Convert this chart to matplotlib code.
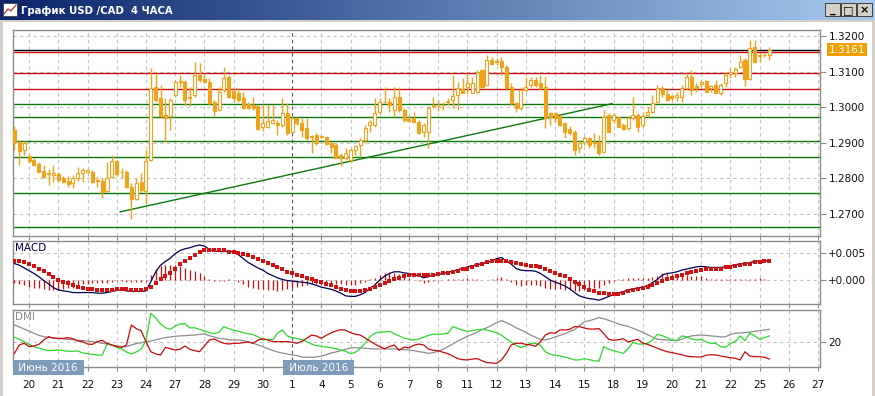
import numpy as np
import matplotlib
matplotlib.use("Agg")
import matplotlib.pyplot as plt
from matplotlib.patches import Rectangle
from matplotlib.colors import LinearSegmentedColormap

# ---- data: 4h bars, index 0 = 20 June 00:00, 6 bars per trading day ----
bars = np.arange(-3, 153)

opens = [1.2936, 1.2902, 1.2880, 1.2862, 1.2852, 1.2841, 1.2821, 1.2815, 1.2810, 1.2812,
         1.2801, 1.2794, 1.2788, 1.2801, 1.2815, 1.2819, 1.2819, 1.2796, 1.2793, 1.2765,
         1.2805, 1.2849, 1.2819, 1.2819, 1.2777, 1.2743, 1.2791, 1.2765, 1.2852, 1.3058,
         1.3025, 1.2979, 1.2974, 1.3035, 1.3070, 1.3072, 1.3030, 1.3035, 1.3091, 1.3080,
         1.3072, 1.3016, 1.2992, 1.3048, 1.3086, 1.3045, 1.3040, 1.3025, 1.3008, 1.3006,
         1.3002, 1.2945, 1.2945, 1.2955, 1.2957, 1.2950, 1.2983, 1.2931, 1.2969, 1.2955,
         1.2941, 1.2919, 1.2922, 1.2918, 1.2915, 1.2899, 1.2894, 1.2866, 1.2856, 1.2852,
         1.2880, 1.2894, 1.2908, 1.2950, 1.2950, 1.2987, 1.3015, 1.3016, 1.2992, 1.3030,
         1.2992, 1.2966, 1.2969, 1.2959, 1.2931, 1.2931, 1.3002, 1.3002, 1.3005, 1.3014,
         1.3020, 1.3034, 1.3050, 1.3058, 1.3041, 1.3044, 1.3105, 1.3062, 1.3134, 1.3129,
         1.3131, 1.3114, 1.3058, 1.3011, 1.2997, 1.3048, 1.3062, 1.3076, 1.3067, 1.3058,
         1.2983, 1.2985, 1.2975, 1.2955, 1.2938, 1.2931, 1.2885, 1.2903, 1.2914, 1.2901,
         1.2903, 1.2875, 1.2978, 1.2964, 1.2972, 1.2950, 1.2941, 1.2969, 1.2978, 1.2950,
         1.2978, 1.2987, 1.3016, 1.3053, 1.3037, 1.3032, 1.3030, 1.3030, 1.3053, 1.3086,
         1.3060, 1.3065, 1.3074, 1.3053, 1.3062, 1.3039, 1.3067, 1.3093, 1.3095, 1.3112,
         1.3133, 1.3078, 1.3170, 1.3147, 1.3147, 1.3147]
highs = [1.2946, 1.2908, 1.2904, 1.2868, 1.2857, 1.2846, 1.2838, 1.2826, 1.2838, 1.2817,
         1.2808, 1.2808, 1.2810, 1.2833, 1.2829, 1.2827, 1.2824, 1.2805, 1.2801, 1.2847,
         1.2866, 1.2852, 1.2829, 1.2824, 1.2787, 1.2801, 1.2815, 1.2880, 1.3109, 1.3096,
         1.3063, 1.3025, 1.3025, 1.3077, 1.3091, 1.3077, 1.3058, 1.3128, 1.3124, 1.3091,
         1.3081, 1.3020, 1.3058, 1.3114, 1.3090, 1.3053, 1.3053, 1.3044, 1.3016, 1.3030,
         1.3003, 1.3008, 1.3006, 1.3006, 1.2964, 1.3025, 1.3011, 1.2975, 1.2973, 1.2969,
         1.2969, 1.2922, 1.2927, 1.2919, 1.2919, 1.2903, 1.2899, 1.2871, 1.2885, 1.2885,
         1.2894, 1.2913, 1.2950, 1.2964, 1.3025, 1.3025, 1.3058, 1.3025, 1.3058, 1.3058,
         1.2997, 1.2978, 1.2987, 1.2964, 1.2955, 1.3002, 1.3028, 1.3020, 1.3016, 1.3025,
         1.3090, 1.3072, 1.3081, 1.3095, 1.3086, 1.3105, 1.3106, 1.3147, 1.3142, 1.3137,
         1.3142, 1.3119, 1.3067, 1.3016, 1.3058, 1.3086, 1.3086, 1.3086, 1.3090, 1.3086,
         1.2987, 1.2987, 1.2978, 1.2959, 1.2947, 1.2936, 1.2908, 1.2920, 1.2917, 1.2927,
         1.2922, 1.2992, 1.2983, 1.2983, 1.2975, 1.2955, 1.2975, 1.3030, 1.2983, 1.2987,
         1.3001, 1.3034, 1.3062, 1.3060, 1.3048, 1.3034, 1.3044, 1.3062, 1.3095, 1.3104,
         1.3067, 1.3076, 1.3076, 1.3062, 1.3076, 1.3067, 1.3100, 1.3109, 1.3114, 1.3147,
         1.3137, 1.3189, 1.3189, 1.3151, 1.3151, 1.3170]
lows = [1.2880, 1.2838, 1.2866, 1.2843, 1.2836, 1.2817, 1.2801, 1.2782, 1.2791, 1.2789,
        1.2787, 1.2775, 1.2772, 1.2793, 1.2791, 1.2815, 1.2787, 1.2777, 1.2746, 1.2763,
        1.2801, 1.2808, 1.2801, 1.2772, 1.2686, 1.2740, 1.2763, 1.2728, 1.2849, 1.3016,
        1.2969, 1.2902, 1.2936, 1.3030, 1.3058, 1.3007, 1.3002, 1.3030, 1.3072, 1.3067,
        1.3006, 1.2974, 1.2988, 1.3044, 1.3025, 1.3016, 1.3016, 1.2995, 1.2995, 1.2992,
        1.2936, 1.2933, 1.2941, 1.2952, 1.2922, 1.2945, 1.2922, 1.2929, 1.2950, 1.2917,
        1.2908, 1.2871, 1.2894, 1.2913, 1.2894, 1.2871, 1.2856, 1.2835, 1.2852, 1.2847,
        1.2866, 1.2861, 1.2899, 1.2931, 1.2945, 1.2983, 1.3011, 1.2987, 1.2973, 1.2987,
        1.2959, 1.2959, 1.2955, 1.2925, 1.2917, 1.2885, 1.2997, 1.2988, 1.2992, 1.3006,
        1.2997, 1.2992, 1.3039, 1.3039, 1.3039, 1.3039, 1.3053, 1.3062, 1.3119, 1.3119,
        1.3090, 1.3048, 1.3006, 1.2987, 1.2992, 1.3044, 1.3058, 1.3058, 1.3048, 1.2941,
        1.2950, 1.2959, 1.2947, 1.2913, 1.2922, 1.2866, 1.2870, 1.2894, 1.2885, 1.2885,
        1.2866, 1.2873, 1.2931, 1.2955, 1.2944, 1.2936, 1.2936, 1.2964, 1.2931, 1.2945,
        1.2973, 1.2983, 1.3011, 1.3030, 1.3018, 1.3020, 1.3018, 1.3016, 1.3048, 1.3034,
        1.3044, 1.3058, 1.3044, 1.3044, 1.3037, 1.3034, 1.3058, 1.3081, 1.3086, 1.3109,
        1.3060, 1.3076, 1.3123, 1.3126, 1.3142, 1.3134]
closes = [1.2902, 1.2878, 1.2899, 1.2849, 1.2838, 1.2819, 1.2805, 1.2812, 1.2815, 1.2796,
          1.2789, 1.2784, 1.2801, 1.2815, 1.2824, 1.2824, 1.2789, 1.2793, 1.2763, 1.2801,
          1.2849, 1.2812, 1.2817, 1.2775, 1.2743, 1.2787, 1.2768, 1.2849, 1.3053, 1.3021,
          1.2974, 1.2969, 1.3021, 1.3072, 1.3074, 1.3021, 1.3025, 1.3091, 1.3077, 1.3072,
          1.3011, 1.2988, 1.3044, 1.3081, 1.3030, 1.3027, 1.3020, 1.2997, 1.2999, 1.2997,
          1.2939, 1.2955, 1.2961, 1.2964, 1.2950, 1.2983, 1.2927, 1.2969, 1.2955, 1.2936,
          1.2913, 1.2915, 1.2899, 1.2916, 1.2897, 1.2889, 1.2856, 1.2856, 1.2871, 1.2880,
          1.2891, 1.2908, 1.2943, 1.2959, 1.2983, 1.3016, 1.3016, 1.3006, 1.3030, 1.2992,
          1.2964, 1.2962, 1.2959, 1.2927, 1.2950, 1.2997, 1.3006, 1.3004, 1.3007, 1.3018,
          1.3031, 1.3053, 1.3041, 1.3067, 1.3067, 1.3100, 1.3058, 1.3133, 1.3121, 1.3127,
          1.3112, 1.3053, 1.3011, 1.2997, 1.3048, 1.3058, 1.3076, 1.3062, 1.3053, 1.2969,
          1.2972, 1.2969, 1.2950, 1.2931, 1.2927, 1.2880, 1.2899, 1.2913, 1.2894, 1.2899,
          1.2870, 1.2973, 1.2931, 1.2978, 1.2945, 1.2939, 1.2969, 1.2978, 1.2945, 1.2975,
          1.2987, 1.3011, 1.3053, 1.3037, 1.3020, 1.3027, 1.3034, 1.3053, 1.3086, 1.3048,
          1.3053, 1.3072, 1.3044, 1.3060, 1.3039, 1.3062, 1.3090, 1.3100, 1.3106, 1.3128,
          1.3078, 1.3165, 1.3128, 1.3144, 1.3148, 1.3161]

# MACD panel, values in units of 0.001
macd_line = [3.0, 2.7, 2.2, 1.7, 1.2, 0.6, -0.1, -0.7, -1.4, -1.8, -2.0, -2.1, -2.3, -2.3, -2.3,
             -2.3, -2.3, -2.4, -2.4, -2.3, -2.1, -1.9, -1.8, -2.0, -2.1, -2.1, -2.1, -2.0, -0.3, 1.5,
             2.7, 3.4, 4.0, 4.8, 5.4, 5.7, 5.9, 6.2, 6.4, 6.2, 5.6, 5.3, 5.2, 5.2, 5.3,
             5.1, 4.6, 3.9, 3.2, 2.7, 2.2, 1.8, 1.2, 0.8, 0.4, 0.1, -0.1, -0.2, -0.3, -0.4,
             -0.5, -0.7, -1.0, -1.3, -1.5, -1.7, -2.0, -2.4, -2.9, -3.0, -3.0, -2.7, -2.3, -1.5, -0.9,
             0.0, 0.7, 1.2, 1.5, 1.5, 1.3, 1.2, 0.9, 0.8, 0.4, 0.6, 0.9, 1.0, 1.2, 1.4,
             1.6, 1.9, 2.1, 2.4, 2.6, 2.8, 3.0, 3.2, 3.5, 3.9, 4.1, 3.5, 2.9, 2.1, 1.8,
             1.7, 1.7, 1.6, 1.2, 0.6, 0.0, -0.4, -0.7, -1.1, -1.6, -2.3, -2.9, -3.2, -3.4, -3.5,
             -3.7, -3.4, -3.0, -2.7, -2.4, -2.1, -1.9, -1.6, -1.5, -1.3, -1.0, -0.5, 0.1, 0.9, 1.2,
             1.3, 1.5, 1.8, 2.0, 2.2, 2.4, 2.5, 2.4, 2.3, 2.3, 2.3, 2.4, 2.6, 2.8, 2.9,
             3.0, 3.2, 3.4, 3.5, 3.5, 3.5]
macd_signal = [3.5, 3.4, 3.2, 2.9, 2.6, 2.1, 1.6, 1.1, 0.5, 0.0, -0.4, -0.6, -0.9, -1.2, -1.5,
               -1.6, -1.7, -1.8, -1.9, -1.8, -1.8, -1.7, -1.7, -1.7, -1.8, -1.8, -1.8, -1.7, -1.2, -0.6,
               0.1, 0.7, 1.3, 2.1, 2.9, 3.5, 4.1, 4.6, 5.1, 5.4, 5.5, 5.5, 5.4, 5.4, 5.2,
               5.1, 4.9, 4.7, 4.5, 4.2, 3.9, 3.5, 3.1, 2.7, 2.4, 2.0, 1.5, 1.2, 1.0, 0.7,
               0.4, 0.1, -0.2, -0.4, -0.7, -1.0, -1.3, -1.6, -1.9, -2.1, -2.1, -2.1, -1.9, -1.6, -1.3,
               -1.0, -0.5, -0.1, 0.2, 0.4, 0.7, 0.9, 0.9, 0.9, 0.9, 0.9, 1.0, 1.1, 1.2, 1.3,
               1.5, 1.7, 2.0, 2.1, 2.4, 2.7, 3.0, 3.2, 3.4, 3.5, 3.5, 3.4, 3.3, 3.1, 2.9,
               2.7, 2.6, 2.5, 2.3, 2.0, 1.6, 1.3, 1.0, 0.7, 0.2, -0.3, -0.8, -1.3, -1.8, -2.1,
               -2.3, -2.4, -2.5, -2.6, -2.5, -2.3, -2.1, -1.9, -1.7, -1.5, -1.2, -0.9, -0.5, -0.2, 0.1,
               0.4, 0.7, 1.0, 1.2, 1.5, 1.7, 1.8, 2.0, 2.1, 2.1, 2.1, 2.3, 2.4, 2.6, 2.7,
               2.9, 3.0, 3.2, 3.2, 3.4, 3.5]
macd_hist = [-0.5, -0.7, -1.0, -1.2, -1.4, -1.5, -1.7, -1.8, -1.9, -1.8, -1.6, -1.5, -1.4, -1.1, -0.8,
             -0.7, -0.6, -0.6, -0.5, -0.5, -0.3, -0.2, -0.1, -0.3, -0.3, -0.3, -0.3, -0.3, 0.9, 2.1,
             2.6, 2.7, 2.7, 2.7, 2.5, 2.2, 1.8, 1.6, 1.3, 0.8, 0.1, -0.2, -0.2, -0.2, 0.1,
             0.0, -0.3, -0.8, -1.3, -1.5, -1.7, -1.7, -1.9, -1.9, -2.0, -1.9, -1.6, -1.4, -1.3, -1.1,
             -0.9, -0.8, -0.8, -0.9, -0.8, -0.7, -0.7, -0.8, -1.0, -0.9, -0.9, -0.6, -0.4, 0.1, 0.4,
             1.0, 1.2, 1.3, 1.3, 1.1, 0.6, 0.3, 0.0, -0.1, -0.5, -0.3, -0.1, -0.1, 0.0, 0.1,
             0.1, 0.2, 0.1, 0.3, 0.2, 0.1, 0.0, 0.0, 0.1, 0.4, 0.6, 0.1, -0.4, -1.0, -1.1,
             -1.0, -0.9, -0.9, -1.1, -1.4, -1.6, -1.7, -1.7, -1.8, -1.8, -2.0, -2.1, -1.9, -1.6, -1.4,
             -1.4, -1.0, -0.5, -0.1, 0.1, 0.2, 0.3, 0.4, 0.4, 0.4, 0.4, 0.6, 0.8, 1.3, 1.3,
             1.1, 1.0, 1.0, 1.0, 0.8, 0.7, 0.7, 0.4, 0.2, 0.2, 0.2, 0.1, 0.2, 0.2, 0.2,
             0.1, 0.2, 0.2, 0.3, 0.1, 0.0]

# DMI panel
adx = [31.1, 29.8, 28.4, 27.1, 25.6, 24.2, 23.3, 22.9, 22.4, 22.0, 21.8, 21.6, 21.3, 20.9, 20.7,
       20.4, 20.0, 19.6, 18.9, 18.4, 17.8, 17.1, 16.7, 16.7, 17.8, 18.7, 19.3, 20.0, 20.4, 21.3,
       22.0, 22.7, 23.1, 23.6, 23.8, 24.0, 24.2, 24.4, 24.9, 25.1, 24.0, 23.1, 22.2, 21.8, 21.3,
       21.1, 21.1, 20.7, 19.8, 18.9, 17.8, 16.7, 15.3, 14.2, 13.1, 12.4, 11.8, 11.1, 10.7, 9.8,
       9.6, 9.6, 9.8, 10.4, 11.3, 12.4, 13.1, 14.0, 14.9, 15.8, 16.0, 15.8, 15.6, 15.3, 15.1,
       15.1, 15.1, 15.1, 15.1, 14.9, 14.7, 14.4, 14.0, 13.3, 12.9, 12.2, 12.7, 13.6, 14.9, 16.7,
       18.4, 20.4, 22.0, 23.6, 24.9, 26.4, 28.0, 29.3, 30.9, 32.7, 34.0, 32.7, 31.1, 29.3, 27.8,
       26.2, 24.4, 22.9, 21.6, 21.1, 22.0, 23.1, 24.2, 25.3, 26.7, 28.0, 30.7, 33.1, 34.0, 34.9,
       36.0, 35.3, 34.2, 33.1, 31.8, 30.9, 30.2, 28.9, 27.6, 26.2, 24.7, 23.1, 21.6, 21.3, 21.1,
       20.9, 20.7, 21.6, 22.9, 23.8, 24.2, 24.4, 24.2, 23.8, 23.6, 23.1, 23.3, 24.7, 25.6, 25.8,
       26.0, 26.4, 26.9, 27.3, 27.8, 28.2]
plus_di = [22.9, 21.6, 19.8, 18.2, 16.7, 15.8, 14.7, 14.0, 14.2, 14.4, 14.0, 13.6, 13.6, 13.8, 12.4,
           12.0, 11.6, 11.1, 10.9, 18.4, 17.8, 16.2, 15.1, 13.1, 11.8, 13.1, 14.9, 20.7, 38.9, 35.8,
           31.8, 29.3, 28.2, 30.4, 31.8, 32.0, 29.1, 29.3, 28.2, 27.1, 26.0, 25.3, 26.4, 30.0, 28.7,
           27.6, 26.9, 26.0, 25.3, 24.7, 23.3, 21.1, 21.6, 21.1, 25.6, 27.8, 23.8, 22.7, 22.2, 21.3,
           20.0, 18.4, 17.3, 16.9, 16.4, 16.0, 15.3, 14.4, 13.6, 12.0, 12.9, 15.6, 18.9, 23.3, 25.6,
           26.4, 26.4, 26.9, 25.3, 23.8, 22.4, 21.6, 21.1, 21.8, 22.9, 24.2, 25.1, 24.7, 25.1, 25.6,
           30.0, 28.9, 27.6, 26.9, 27.3, 28.0, 28.2, 27.8, 26.9, 25.8, 24.4, 21.8, 19.8, 17.6, 16.0,
           17.3, 18.9, 18.9, 17.6, 13.3, 11.6, 10.9, 10.4, 9.8, 8.9, 7.8, 7.8, 8.7, 8.0, 7.3,
           6.9, 16.7, 14.9, 14.0, 13.1, 12.2, 15.3, 19.6, 18.4, 18.4, 18.9, 21.1, 24.9, 24.0, 22.7,
           21.3, 20.7, 23.8, 23.3, 21.8, 21.1, 21.6, 19.8, 18.9, 18.9, 16.7, 16.2, 18.9, 20.0, 23.8,
           20.7, 25.6, 23.8, 21.6, 22.7, 23.8]
minus_di = [12.2, 17.8, 18.9, 16.7, 17.1, 18.2, 21.1, 23.3, 22.4, 22.2, 22.2, 22.7, 22.0, 20.4, 20.0,
            18.4, 18.2, 20.0, 20.9, 18.9, 17.8, 16.7, 16.2, 17.8, 31.1, 28.7, 27.3, 20.0, 13.3, 11.8,
            11.1, 16.2, 15.3, 14.4, 14.9, 17.1, 14.9, 14.0, 13.3, 17.1, 21.1, 21.8, 20.2, 18.9, 18.4,
            18.9, 18.9, 19.3, 19.8, 18.9, 21.1, 22.0, 21.1, 20.0, 20.0, 20.0, 20.0, 19.6, 18.9, 20.2,
            22.2, 24.4, 23.8, 22.2, 24.2, 25.8, 27.1, 28.0, 27.6, 26.0, 24.9, 24.4, 22.4, 20.4, 18.4,
            16.7, 15.3, 16.7, 17.8, 14.2, 16.4, 15.8, 17.6, 18.4, 17.8, 15.1, 14.2, 14.0, 12.9, 12.0,
            10.4, 8.7, 8.0, 7.8, 8.4, 8.7, 7.3, 6.0, 5.8, 5.6, 7.8, 12.2, 17.8, 18.9, 18.9,
            18.2, 17.8, 16.9, 20.0, 24.4, 26.0, 25.6, 27.8, 27.8, 28.2, 30.0, 30.0, 29.1, 28.4, 28.4,
            28.7, 25.3, 21.6, 20.9, 21.3, 22.0, 19.8, 20.7, 21.6, 19.1, 18.2, 16.9, 15.6, 14.4, 13.3,
            12.7, 12.0, 11.3, 10.4, 10.0, 9.8, 9.8, 10.9, 11.3, 11.1, 10.4, 9.8, 9.3, 8.9, 7.8,
            13.3, 10.4, 10.0, 10.0, 9.6, 8.4]

day_labels = ['20', '21', '22', '23', '24', '27', '28', '29', '30', '1', '4', '5', '6', '7',
              '8', '11', '12', '13', '14', '15', '18', '19', '20', '21', '22', '25', '26', '27']
month_labels = [('Июнь 2016', 0), ('Июль 2016', 9)]

hlines_red = [1.3154, 1.3096, 1.3052]
hlines_green = [1.3008, 1.2972, 1.2905, 1.2859, 1.2759, 1.2664]
last_price = 1.3161
trend = ([18.7, 119.7], [1.2706, 1.3010])

# ---- style ----
W, H = 875, 396
CANDLE = '#F0A31A'
GRID = '#C4C4C4'
SPINE = '#8C8C8C'
plt.rcParams['font.family'] = 'DejaVu Sans'

fig = plt.figure(figsize=(W / 100, H / 100), dpi=100)
fig.patch.set_facecolor('white')


def px_axes(left, top, right, bottom, **kw):
    return fig.add_axes([left / W, 1 - bottom / H, (right - left) / W, (bottom - top) / H], **kw)


xmin, xmax = -3.3, 162.4
day_pos = np.arange(len(day_labels)) * 6


def style_panel(ax):
    ax.set_xlim(xmin, xmax)
    ax.set_facecolor('white')
    for s in ax.spines.values():
        s.set_color(SPINE)
        s.set_linewidth(1.0)
    ax.yaxis.tick_right()
    ax.tick_params(axis='y', direction='out', length=4, width=0.8, color=SPINE,
                   labelsize=7.5, pad=2, labelcolor='#111111')
    ax.set_xticks(day_pos)
    ax.tick_params(axis='x', direction='out', length=3, width=0.8, color=SPINE,
                   labelbottom=False)
    ax.grid(True, linestyle=(0, (3, 3)), color=GRID, linewidth=0.8)
    ax.set_axisbelow(True)
    # month separator (1 July)
    ax.axvline(day_pos[9], color='#555555', linestyle=(0, (3, 3)), linewidth=0.8, zorder=1)


# ---- window chrome ----
title_ax = px_axes(0, 0, W, 20)
grad = np.linspace(0, 1, 256).reshape(1, -1)
title_cmap = LinearSegmentedColormap.from_list('t', ['#0A246A', '#A6CAF0'])
title_ax.imshow(grad, aspect='auto', cmap=title_cmap, extent=[0, W, 20, 0])
title_ax.set_xlim(0, W)
title_ax.set_ylim(20, 0)
title_ax.axis('off')
title_ax.add_patch(Rectangle((3, 3), 14, 13, facecolor='white', edgecolor='#404040', lw=0.6))
title_ax.plot([4, 8, 11, 16], [14, 9, 11, 5], color='#C03030', lw=0.9)
title_ax.text(21, 10.5, 'График USD /CAD  4 ЧАСА', color='white', fontsize=7.3,
              fontweight='bold', va='center', ha='left')
for bx, glyph in [(825, '_'), (841, '□'), (857, '×')]:
    title_ax.add_patch(Rectangle((bx, 3), 15, 13, facecolor='#D4D0C8', edgecolor='#404040', lw=0.7))
    title_ax.text(bx + 7.5, 10, glyph, fontsize=8, fontweight='bold', ha='center', va='center',
                  color='black')

frame_ax = px_axes(0, 20, W, H)
frame_ax.set_xlim(0, W)
frame_ax.set_ylim(H, 20)
frame_ax.axis('off')
frame_ax.add_patch(Rectangle((0, 20), 3, H - 20, facecolor='#D4D0C8', edgecolor='none'))
frame_ax.add_patch(Rectangle((W - 3, 20), 3, H - 20, facecolor='#D4D0C8', edgecolor='none'))
frame_ax.add_patch(Rectangle((0, 20), W, 2, facecolor='#D4D0C8', edgecolor='none'))

# ---- price panel ----
ax = px_axes(13, 30, 820, 236)
style_panel(ax)
ax.set_ylim(1.26382, 1.32169)
ax.set_yticks([1.27, 1.28, 1.29, 1.30, 1.31, 1.32])
ax.set_yticklabels(['1.2700', '1.2800', '1.2900', '1.3000', '1.3100', '1.3200'])

for lv in hlines_red:
    ax.axhline(lv, color='#C81010', lw=1.0, zorder=2)
for lv in hlines_green:
    ax.axhline(lv, color='#0A7A0A', lw=1.0, zorder=2)
ax.axhline(last_price, color='black', lw=1.0, zorder=2)
ax.plot(trend[0], trend[1], color='#0A7A0A', lw=1.0, zorder=2)

o = np.array(opens)
c = np.array(closes)
body_lo = np.minimum(o, c)
body_h = np.maximum(np.abs(c - o), 0.00004)
faces = ['white' if cc > oo else CANDLE for oo, cc in zip(o, c)]
ax.vlines(bars, lows, highs, color=CANDLE, lw=1.0, zorder=3)
ax.bar(bars, body_h, bottom=body_lo, width=0.62, color=faces, edgecolor=CANDLE,
       linewidth=0.8, zorder=4)

ax.annotate('1.3161', xy=(1.0, last_price), xycoords=('axes fraction', 'data'),
            xytext=(6.5, 0), textcoords='offset points', fontsize=7.5, color='white',
            va='center', ha='left', annotation_clip=False,
            bbox=dict(boxstyle='square,pad=0.15', facecolor='#F0A000', edgecolor='none'))

# ---- MACD panel ----
axm = px_axes(13, 241, 820, 304)
style_panel(axm)
axm.set_ylim(-4.39, 7.13)
axm.set_yticks([0, 5])
axm.set_yticklabels(['+0.000', '+0.005'])
axm.vlines(bars, 0, macd_hist, color='#D01010', lw=0.9, zorder=3)
axm.plot(bars, macd_line, color='#000050', lw=0.9, zorder=4)
axm.plot(bars, macd_signal, linestyle='none', marker='s', markersize=2.3,
         color='#D41010', markeredgewidth=0, zorder=5)
axm.text(0.003, 0.97, 'MACD', transform=axm.transAxes, fontsize=7.5, color='#000040',
         va='top', ha='left')

# ---- DMI panel ----
axd = px_axes(13, 310, 820, 367)
style_panel(axd)
axd.set_ylim(3.1, 41.1)
axd.set_yticks([20])
axd.set_yticklabels(['20'])
axd.plot(bars, adx, color='#8C8C8C', lw=0.9, zorder=3)
axd.plot(bars, plus_di, color='#2ED82E', lw=0.9, zorder=4)
axd.plot(bars, minus_di, color='#C80A0A', lw=0.9, zorder=5)
axd.text(0.003, 0.97, 'DMI', transform=axd.transAxes, fontsize=7.5, color='#8C8C8C',
         va='top', ha='left')
axd.tick_params(axis='x', labelbottom=True, labelsize=7.5, pad=6, labelcolor='#111111')
axd.set_xticklabels(day_labels)

for text, di in month_labels:
    x0 = xmin + 0.45 if di == 0 else day_pos[di] - 1.3
    axd.text(x0, -0.01, ' ' + text + ' ', transform=axd.get_xaxis_transform(), fontsize=7.5,
             color='white', va='center', ha='left', zorder=10, clip_on=False,
             bbox=dict(boxstyle='square,pad=0.25', facecolor='#7E9BB8', edgecolor='none'))

fig.savefig('out.png', dpi=100)
